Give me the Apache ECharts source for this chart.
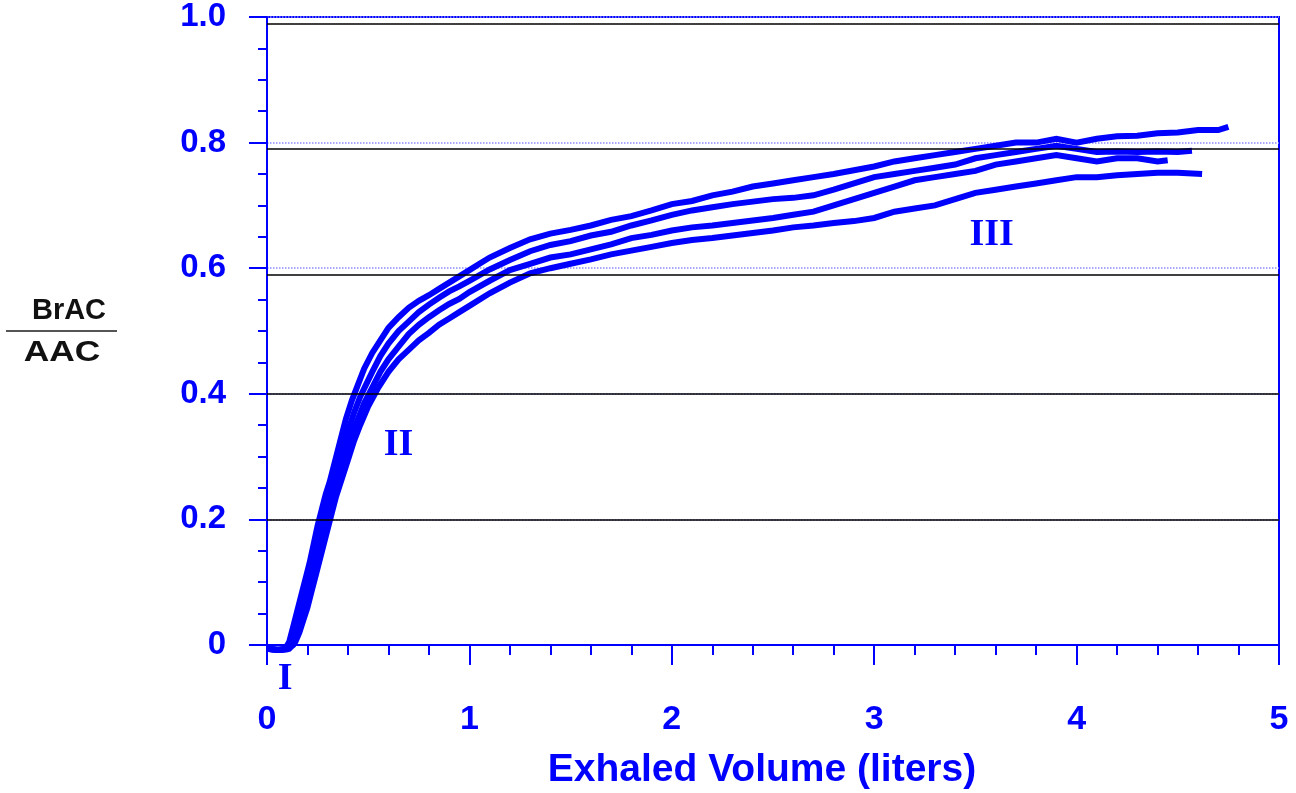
<!DOCTYPE html>
<html>
<head>
<meta charset="utf-8">
<script src="https://cdn.jsdelivr.net/npm/echarts@6/dist/echarts.min.js"></script>
<style>html,body{margin:0;padding:0;background:#fff}#c{width:1296px;height:793px}</style>
</head>
<body>
<div id="c"></div>
<script>
// ---- data ----
const xTicks = [0, 1, 2, 3, 4, 5];
const yTicks = [0, 0.2, 0.4, 0.6, 0.8, 1.0];
const blackLines = [0.986, 0.79, 0.592, 0.395, 0.2];

const curveA = [[0,-0.006],[0.05,-0.008],[0.09,-0.006],[0.11,0.005],[0.13,0.03],[0.15,0.055],[0.17,0.08],[0.19,0.105],[0.21,0.13],[0.23,0.16],[0.25,0.19],[0.27,0.215],[0.29,0.24],[0.31,0.26],[0.33,0.285],[0.35,0.31],[0.37,0.335],[0.39,0.36],[0.42,0.39],[0.45,0.415],[0.48,0.44],[0.52,0.465],[0.56,0.485],[0.60,0.505],[0.65,0.522],[0.70,0.537],[0.75,0.548],[0.80,0.557],[0.85,0.567],[0.90,0.577],[0.95,0.587],[1.0,0.597],[1.05,0.607],[1.1,0.617],[1.2,0.632],[1.3,0.646],[1.4,0.655],[1.5,0.661],[1.6,0.668],[1.7,0.677],[1.8,0.683],[1.9,0.692],[2.0,0.702],[2.1,0.707],[2.2,0.716],[2.3,0.722],[2.4,0.73],[2.5,0.735],[2.6,0.74],[2.7,0.745],[2.8,0.75],[2.9,0.756],[3.0,0.762],[3.1,0.77],[3.2,0.775],[3.3,0.78],[3.4,0.785],[3.5,0.79],[3.6,0.795],[3.7,0.80],[3.8,0.80],[3.9,0.806],[4.0,0.80],[4.1,0.806],[4.2,0.81],[4.3,0.811],[4.4,0.815],[4.5,0.816],[4.6,0.82],[4.7,0.82],[4.75,0.825]];

const curveB = [[0,-0.006],[0.05,-0.008],[0.1,-0.006],[0.12,0.005],[0.14,0.025],[0.16,0.05],[0.18,0.075],[0.20,0.10],[0.22,0.125],[0.24,0.15],[0.26,0.175],[0.28,0.20],[0.30,0.225],[0.32,0.25],[0.34,0.27],[0.36,0.295],[0.38,0.32],[0.40,0.34],[0.43,0.37],[0.46,0.395],[0.49,0.415],[0.52,0.435],[0.56,0.46],[0.60,0.48],[0.65,0.50],[0.70,0.515],[0.75,0.53],[0.80,0.542],[0.85,0.553],[0.90,0.563],[0.95,0.571],[1.0,0.58],[1.1,0.598],[1.2,0.613],[1.3,0.627],[1.4,0.637],[1.5,0.643],[1.6,0.652],[1.7,0.658],[1.8,0.668],[1.9,0.676],[2.0,0.685],[2.1,0.692],[2.2,0.697],[2.3,0.702],[2.4,0.706],[2.5,0.71],[2.6,0.712],[2.7,0.716],[2.8,0.725],[2.9,0.735],[3.0,0.745],[3.1,0.75],[3.2,0.755],[3.3,0.76],[3.4,0.765],[3.5,0.775],[3.6,0.78],[3.7,0.785],[3.8,0.79],[3.9,0.795],[4.0,0.79],[4.1,0.785],[4.2,0.786],[4.3,0.785],[4.4,0.786],[4.5,0.785],[4.57,0.787]];

const curveD = [[0,-0.006],[0.06,-0.008],[0.1,-0.007],[0.13,0.0],[0.15,0.02],[0.17,0.04],[0.19,0.065],[0.21,0.09],[0.23,0.115],[0.25,0.14],[0.27,0.165],[0.29,0.19],[0.31,0.215],[0.33,0.24],[0.35,0.26],[0.37,0.285],[0.39,0.305],[0.42,0.335],[0.45,0.36],[0.48,0.385],[0.52,0.41],[0.56,0.435],[0.60,0.455],[0.65,0.475],[0.70,0.495],[0.75,0.51],[0.80,0.522],[0.85,0.533],[0.90,0.543],[0.95,0.551],[1.0,0.562],[1.1,0.58],[1.2,0.597],[1.3,0.607],[1.4,0.617],[1.5,0.622],[1.6,0.63],[1.7,0.638],[1.8,0.648],[1.9,0.653],[2.0,0.66],[2.1,0.665],[2.2,0.668],[2.3,0.672],[2.4,0.676],[2.5,0.68],[2.6,0.685],[2.7,0.69],[2.8,0.70],[2.9,0.71],[3.0,0.72],[3.1,0.73],[3.2,0.74],[3.3,0.745],[3.4,0.75],[3.5,0.755],[3.6,0.765],[3.7,0.77],[3.8,0.775],[3.9,0.78],[4.0,0.775],[4.1,0.77],[4.2,0.775],[4.3,0.775],[4.4,0.77],[4.45,0.772]];

const curveC = [[0,-0.006],[0.07,-0.008],[0.11,-0.006],[0.14,0.005],[0.16,0.02],[0.18,0.04],[0.20,0.06],[0.22,0.085],[0.24,0.11],[0.26,0.135],[0.28,0.16],[0.30,0.185],[0.32,0.21],[0.34,0.235],[0.36,0.255],[0.38,0.275],[0.40,0.295],[0.43,0.325],[0.46,0.35],[0.50,0.38],[0.55,0.41],[0.60,0.435],[0.65,0.455],[0.70,0.47],[0.75,0.485],[0.80,0.497],[0.85,0.51],[0.90,0.52],[0.95,0.53],[1.0,0.54],[1.1,0.56],[1.2,0.577],[1.3,0.592],[1.4,0.6],[1.5,0.607],[1.6,0.614],[1.7,0.622],[1.8,0.628],[1.9,0.634],[2.0,0.64],[2.1,0.645],[2.2,0.648],[2.3,0.652],[2.4,0.656],[2.5,0.66],[2.6,0.665],[2.7,0.668],[2.8,0.672],[2.9,0.675],[3.0,0.68],[3.1,0.69],[3.2,0.695],[3.3,0.70],[3.4,0.71],[3.5,0.72],[3.6,0.725],[3.7,0.73],[3.8,0.735],[3.9,0.74],[4.0,0.745],[4.1,0.745],[4.2,0.748],[4.3,0.75],[4.4,0.752],[4.5,0.752],[4.62,0.75]];

const phaseLabels = [
  { text: 'I', x: 0.09, y: -0.055 },
  { text: 'II', x: 0.65, y: 0.318 },
  { text: 'III', x: 3.58, y: 0.653 }
];
const yTitleTop = 'BrAC';
const yTitleBottom = 'AAC';
const xTitle = 'Exhaled Volume (liters)';

// ---- chart ----
const BLUE = '#0000ff';
const chart = echarts.init(document.getElementById('c'), null, { renderer: 'canvas' });

function curveSeries(data) {
  return {
    type: 'line', data: data, showSymbol: false, symbol: 'none', clip: false,
    lineStyle: { color: BLUE, width: 6, join: 'miter' }, z: 3, silent: true
  };
}

const option = {
  backgroundColor: '#fff',
  animation: false,
  grid: { left: 267, right: 17, top: 17, bottom: 148, show: true, borderColor: BLUE, borderWidth: 2, backgroundColor: 'transparent' },
  xAxis: {
    type: 'value', min: xTicks[0], max: xTicks[xTicks.length - 1], interval: 1,
    axisLine: { show: true, lineStyle: { color: BLUE, width: 2 } },
    axisTick: { show: true, inside: false, length: 20, lineStyle: { color: BLUE, width: 2 } },
    minorTick: { show: true, splitNumber: 5, length: 10, lineStyle: { color: BLUE, width: 2 } },
    splitLine: { show: false },
    axisLabel: { color: BLUE, fontSize: 34, fontWeight: 'bold', fontFamily: 'Liberation Sans, Arial, sans-serif', margin: 58 }
  },
  yAxis: {
    type: 'value', min: yTicks[0], max: yTicks[yTicks.length - 1], interval: 0.2,
    axisLine: { show: true, lineStyle: { color: BLUE, width: 2 } },
    axisTick: { show: true, inside: false, length: 18, lineStyle: { color: BLUE, width: 2 } },
    minorTick: { show: true, splitNumber: 4, length: 9, lineStyle: { color: BLUE, width: 2 } },
    splitLine: { show: true, lineStyle: { color: '#8c8cff', width: 1.5, type: 'dotted' } },
    axisLabel: {
      color: BLUE, fontSize: 33, fontWeight: 'bold', fontFamily: 'Liberation Sans, Arial, sans-serif', margin: 41,
      padding: [8, 0, 0, 0],
      formatter: v => (v === 0 ? '0' : v.toFixed(1))
    }
  },
  series: [
    curveSeries(curveA), curveSeries(curveB), curveSeries(curveD), curveSeries(curveC),
    {
      type: 'line', data: [], z: 6, silent: true,
      markLine: {
        silent: true, symbol: ['none', 'none'], label: { show: false },
        lineStyle: { color: '#000', width: 1.5, type: 'solid' },
        animation: false,
        data: blackLines.map(v => ({ yAxis: v }))
      }
    }
  ],
  graphic: [
    { type: 'text', x: 762, y: 770, style: { text: xTitle, fill: BLUE, font: 'bold 39px "Liberation Sans", Arial, sans-serif', textAlign: 'center', textVerticalAlign: 'middle' } },
    { type: 'text', x: 69, y: 311, style: { text: yTitleTop, fill: '#111', font: 'bold 29px "Liberation Sans", Arial, sans-serif', textAlign: 'center', textVerticalAlign: 'middle' } },
    { type: 'line', shape: { x1: 6, y1: 331, x2: 117, y2: 331 }, style: { stroke: '#555', lineWidth: 2 } },
    { type: 'text', x: 62, y: 353, scaleX: 1.22, style: { text: yTitleBottom, fill: '#111', font: 'bold 29px "Liberation Sans", Arial, sans-serif', textAlign: 'center', textVerticalAlign: 'middle' } }
  ]
};
chart.setOption(option);

// phase labels placed through the chart's own scales
const phaseGraphics = phaseLabels.map(p => {
  const pt = chart.convertToPixel({ gridIndex: 0 }, [p.x, p.y]);
  return {
    type: 'text', x: pt[0], y: pt[1], z: 10,
    style: { text: p.text, fill: BLUE, font: 'bold 38px "Liberation Serif", "Times New Roman", serif', textAlign: 'center', textVerticalAlign: 'middle' }
  };
});
chart.setOption({ graphic: option.graphic.concat(phaseGraphics) });
</script>
</body>
</html>
